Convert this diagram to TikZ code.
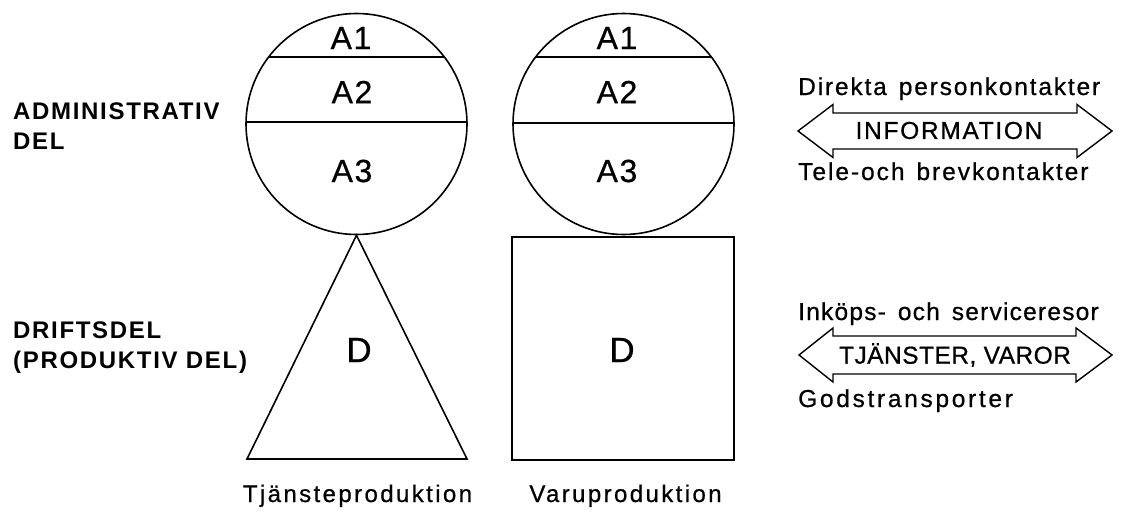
\documentclass[tikz,border=0pt]{standalone}
\usepackage{fontspec}
\setmainfont{Liberation Sans}
\begin{document}
\begin{tikzpicture}[x=1pt,y=-1pt,
  shape line/.style={line width=1.6pt, line join=miter},
  arrow line/.style={line width=1.4pt, line join=miter},
  alabel/.style={font=\fontsize{32}{36}\selectfont\addfontfeatures{LetterSpace=5,FakeBold=0.6}, inner sep=0},
  dlabel/.style={font=\fontsize{35}{40}\selectfont\addfontfeatures{FakeBold=0.6}, inner sep=0},
  prodlabel/.style={font=\fontsize{24}{30}\selectfont\addfontfeatures{LetterSpace=10,FakeBold=0.7}, inner sep=0, anchor=base},
  sidelabel/.style={font=\fontsize{24}{30}\selectfont\bfseries\addfontfeatures{LetterSpace=7}, inner sep=0, anchor=west, align=left},
  contact/.style={font=\fontsize{24.5}{28}\selectfont\addfontfeatures{LetterSpace=#1,FakeBold=0.7}, execute at begin node={\spaceskip=12pt\relax}, inner sep=0, anchor=base west},
  flow/.style={font=\fontsize{24.5}{28}\selectfont\addfontfeatures{LetterSpace=#1,FakeBold=0.7}, inner sep=0}
]
\useasboundingbox (0,0) rectangle (1123,514);

% left: service production
\node[circle, draw, shape line, minimum size=221pt, inner sep=0] (c1) at (356.5,124) {};
\begin{scope}
  \clip (c1.center) circle (110.5pt);
  \draw[shape line] (230,57) -- (480,57);
  \draw[shape line] (230,122) -- (480,122);
\end{scope}
\draw[shape line] (c1.south) -- (467,459) -- (247,459) -- cycle;

% right: goods production
\node[circle, draw, shape line, minimum size=221pt, inner sep=0] (c2) at (623.5,124) {};
\begin{scope}
  \clip (c2.center) circle (110.5pt);
  \draw[shape line] (500,57) -- (750,57);
  \draw[shape line] (500,123) -- (750,123);
\end{scope}
\node[draw, shape line, minimum width=222pt, minimum height=223pt, inner sep=0, anchor=north] (sq) at (623,236) {};

% circle labels
\node[alabel] (l1a1) at (351,38) {A1};
\node[alabel] (l1a2) at (352,92) {A2};
\node[alabel] (l1a3) at (352,171) {A3};
\node[alabel] (l2a1) at (617,38) {A1};
\node[alabel] (l2a2) at (617,92) {A2};
\node[alabel] (l2a3) at (617,171) {A3};
\node[dlabel] (d1) at (359,350) {D};
\node[dlabel] (d2) at (622,350) {D};

\node[prodlabel] (tj) at (357.5,502) {Tjänsteproduktion};
\node[prodlabel] (va) at (625.5,502) {Varuproduktion};

% left side labels
\node[sidelabel] (adm) at (13,126) {ADMINISTRATIV\\DEL};
\node[sidelabel] (drift) at (13,348) {DRIFTSDEL\\(PRODUKTIV DEL)};

% right: information arrow
\coordinate (i1) at (798,131);
\coordinate (i2) at (1112,131);
\draw[arrow line] (i1) -- (833,104.5) -- (833,113) -- (1077,113) -- (1077,104.5) -- (i2)
  -- (1077,157.5) -- (1077,149) -- (833,149) -- (833,157.5) -- cycle;
\node[flow=7] (info) at (949,130.5) {INFORMATION};
\node[contact=7.5] (dir) at (798,95) {Direkta personkontakter};
\node[contact=8] (tele) at (798,180) {Tele-och brevkontakter};

% right: services / goods arrow
\coordinate (g1) at (799,355);
\coordinate (g2) at (1112,355);
\draw[arrow line] (g1) -- (833,328) -- (833,336) -- (1076,336) -- (1076,328) -- (g2)
  -- (1076,382) -- (1076,374) -- (833,374) -- (833,382) -- cycle;
\node[flow=2] (tv) at (955,355) {TJÄNSTER, VAROR};
\node[contact=5] (ink) at (798,320) {Inköps- och serviceresor};
\node[contact=11] (gods) at (798,407) {Godstransporter};
\end{tikzpicture}
\end{document}
